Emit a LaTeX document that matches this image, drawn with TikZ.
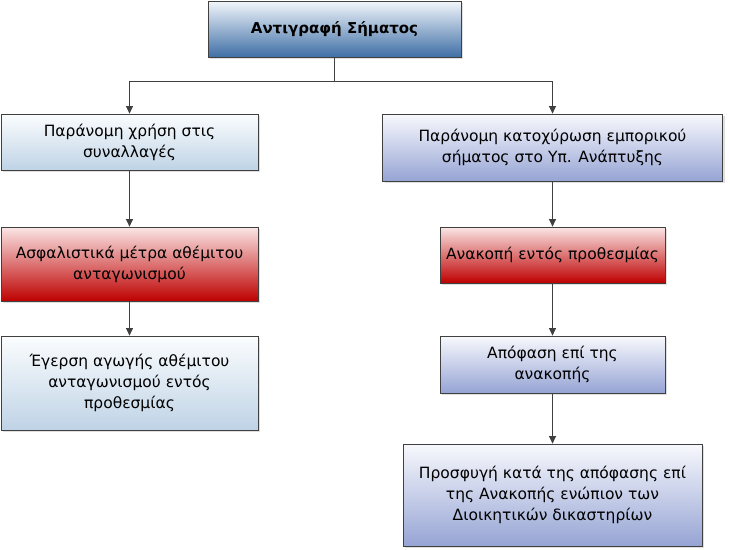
\documentclass[tikz,border=0pt]{standalone}
\usepackage{fontspec}
\setmainfont{DejaVu Sans}
\usetikzlibrary{arrows.meta,shadows}
\definecolor{lineclr}{HTML}{404040}
\definecolor{topT}{HTML}{F2F6FB}
\definecolor{topB}{HTML}{3F6FA6}
\definecolor{ltT}{HTML}{FBFDFE}
\definecolor{ltB}{HTML}{BFD3E6}
\definecolor{lvT}{HTML}{F8F9FD}
\definecolor{lvB}{HTML}{96A4D4}
\definecolor{rdT}{HTML}{FBE6E6}
\definecolor{rdB}{HTML}{BE0000}
\tikzset{
  box/.style={draw=lineclr, line width=0.8pt, rectangle, inner sep=0pt, align=center,
    font=\fontsize{15.5}{21}\selectfont,
    drop shadow={shadow xshift=2pt, shadow yshift=-2pt, opacity=0.25, fill=gray}},
  topbox/.style={box, top color=topT, bottom color=topB, font=\bfseries\fontsize{15}{21}\selectfont},
  ltbox/.style={box, top color=ltT, bottom color=ltB},
  lvbox/.style={box, top color=lvT, bottom color=lvB},
  rdbox/.style={box, top color=rdT, bottom color=rdB},
  conn/.style={draw=lineclr, line width=0.8pt},
  arr/.style={conn, -{Triangle[width=7pt,length=7.5pt]}}
}
\begin{document}
\begin{tikzpicture}[x=1pt,y=1pt]
\useasboundingbox (0,0) rectangle (730,-549);
\node[topbox, minimum width=253, minimum height=56] (top) at (334.5,-29) {Αντιγραφή Σήματος};
\node[ltbox, minimum width=257, minimum height=56] (l1) at (129.5,-142) {Παράνομη χρήση στις\\συναλλαγές};
\node[rdbox, minimum width=257, minimum height=74] (l2) at (129.5,-264) {Ασφαλιστικά μέτρα αθέμιτου\\ανταγωνισμού};
\node[ltbox, minimum width=257, minimum height=94] (l3) at (129.5,-383) {Έγερση αγωγής αθέμιτου\\ανταγωνισμού εντός\\προθεσμίας};
\node[lvbox, minimum width=340, minimum height=67] (r1) at (552.5,-147.5) {Παράνομη κατοχύρωση εμπορικού\\σήματος στο Υπ. Ανάπτυξης};
\node[rdbox, minimum width=225, minimum height=56] (r2) at (552.5,-255) {Ανακοπή εντός προθεσμίας};
\node[lvbox, minimum width=225, minimum height=57] (r3) at (552.5,-364.5) {Απόφαση επί της\\ανακοπής};
\node[lvbox, minimum width=299, minimum height=102] (r4) at (552.5,-495) {Προσφυγή κατά της απόφασης επί\\της Ανακοπής ενώπιον των\\Διοικητικών δικαστηρίων};
\coordinate (j) at (334.5,-81.5);
\draw[conn] (top.south) -- (j);
\draw[arr] (j) -| (l1.north);
\draw[arr] (j) -| (r1.north);
\draw[arr] (l1.south) -- (l2.north);
\draw[arr] (l2.south) -- (l3.north);
\draw[arr] (r1.south) -- (r2.north);
\draw[arr] (r2.south) -- (r3.north);
\draw[arr] (r3.south) -- (r4.north);
\end{tikzpicture}
\end{document}
